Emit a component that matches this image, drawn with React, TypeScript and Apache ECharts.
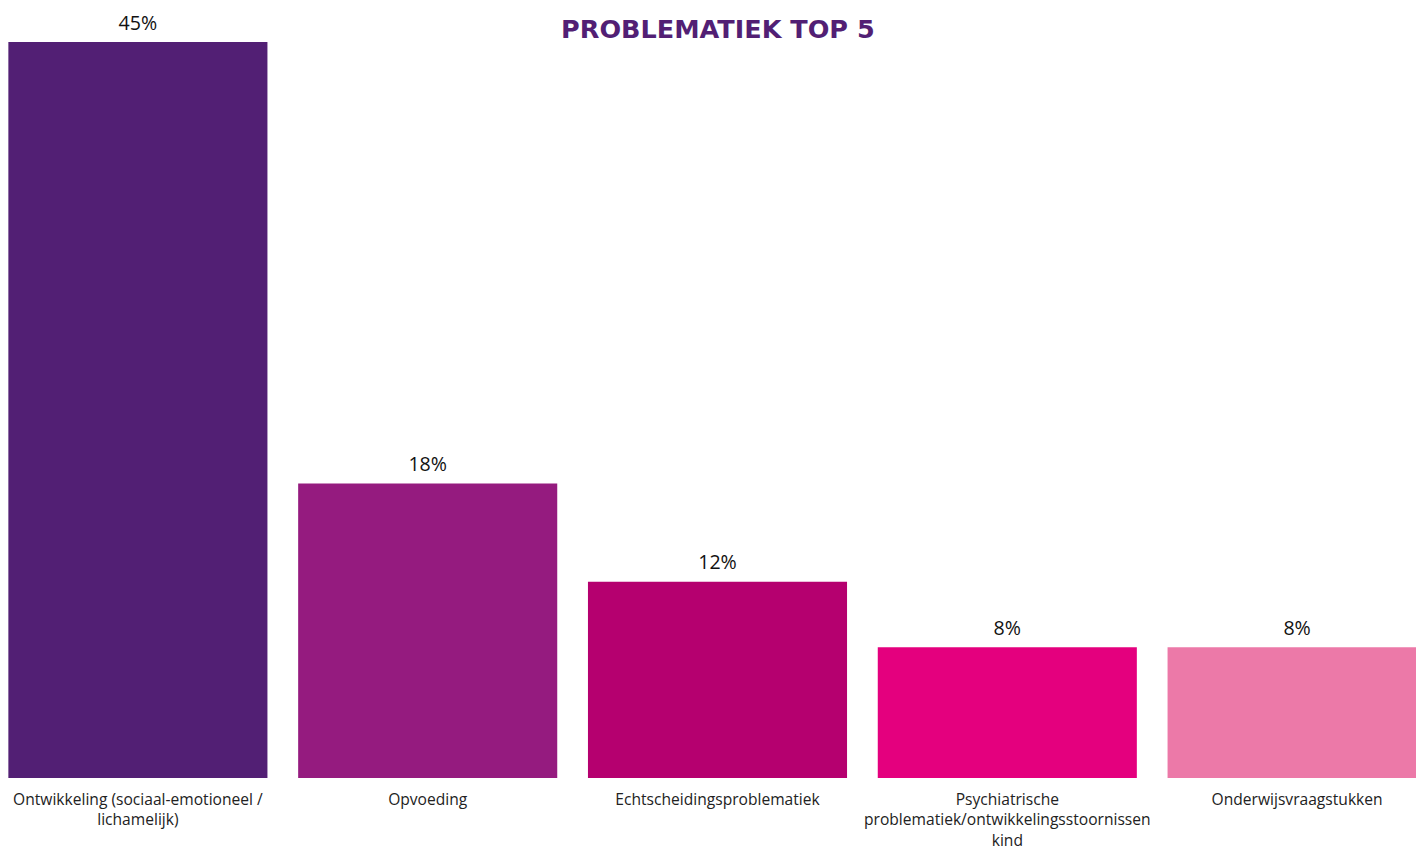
import React, { useEffect, useRef } from "react";
import * as echarts from "echarts";

const categories = [
  "Ontwikkeling (sociaal-emotioneel / lichamelijk)",
  "Opvoeding",
  "Echtscheidingsproblematiek",
  "Psychiatrische problematiek/ontwikkelingsstoornissen kind",
  "Onderwijsvraagstukken",
];
const values = [45, 18, 12, 8, 8];
const barColors = ["#521f74", "#951b7f", "#b5006f", "#e4007e", "#ec79a8"];
const titleText = "PROBLEMATIEK TOP 5";

const LABEL_FONT = "15.6px 'Open Sans'";
const LABEL_WIDTH = 300;

function wrapWords(text: string): string {
  const canvas = document.createElement("canvas");
  const ctx = canvas.getContext("2d");
  if (!ctx) return text;
  ctx.font = LABEL_FONT;
  const words = text.split(" ");
  const lines: string[] = [];
  let cur = "";
  for (const w of words) {
    const test = cur ? cur + " " + w : w;
    if (cur && ctx.measureText(test).width > LABEL_WIDTH) {
      lines.push(cur);
      cur = w;
    } else {
      cur = test;
    }
  }
  if (cur) lines.push(cur);
  return lines.join("\n");
}

export default function App() {
  const ref = useRef<HTMLDivElement>(null);
  useEffect(() => {
    if (!ref.current) return;
    const chart = echarts.init(ref.current, null, { renderer: "svg" });
    chart.setOption({
      animation: false,
      backgroundColor: "#ffffff",
      title: {
        text: titleText,
        left: 712.5 + 7.4,
        textAlign: "center",
        top: 11,
        textStyle: {
          fontFamily: "DejaVu Sans",
          fontWeight: "bold",
          fontSize: 25.5,
          color: "#521f74",
        },
      },
      grid: {
        left: 0,
        right: 0,
        top: 42,
        bottom: 72,
        containLabel: false,
        outerBoundsMode: "none",
      },
      xAxis: {
        type: "category",
        data: categories,
        axisLine: { show: false },
        axisTick: { show: false },
        axisLabel: {
          interval: 0,
          margin: 11,
          formatter: (v: string) => wrapWords(v),
          fontFamily: "Open Sans",
          fontSize: 15.6,
          lineHeight: 20.3,
          color: "#222222",
        },
      },
      yAxis: {
        type: "value",
        min: 0,
        max: 45,
        show: false,
        splitLine: { show: false },
      },
      series: [
        {
          type: "bar",
          barCategoryGap: "10.6%",
          data: values.map((v, i) => ({ value: v, itemStyle: { color: barColors[i] } })),
          label: {
            show: true,
            position: "top",
            distance: 10,
            formatter: (p: any) => `${p.value}%`,
            fontFamily: "Open Sans",
            fontSize: 19.6,
            color: "#111111",
          },
        },
      ],
    });
    return () => chart.dispose();
  }, []);
  return (
    <div
      style={{
        position: "absolute",
        left: 0,
        top: 0,
        width: 1416,
        height: 850,
        overflow: "hidden",
        background: "#ffffff",
      }}
    >
      <div
        ref={ref}
        style={{ position: "absolute", left: -7.4, top: 0, width: 1448.8, height: 850 }}
      />
    </div>
  );
}
